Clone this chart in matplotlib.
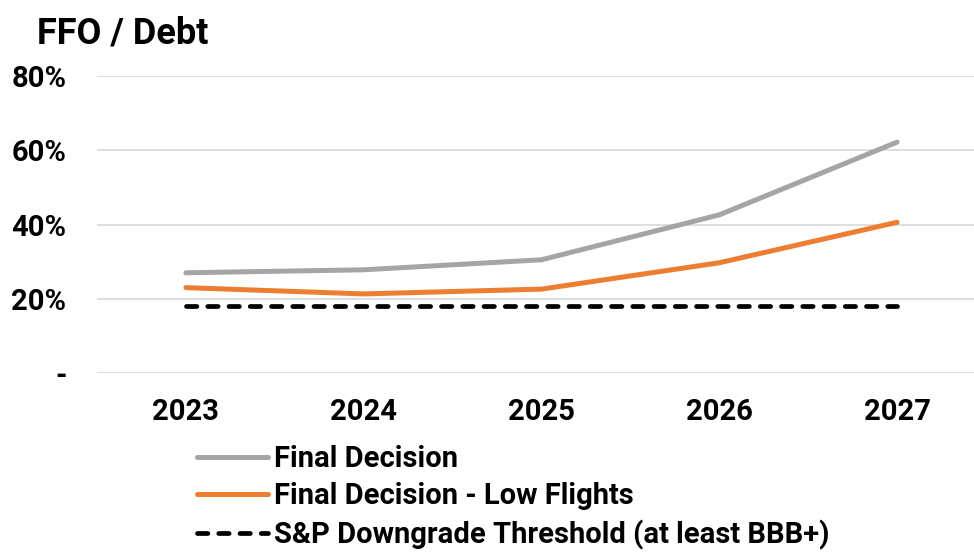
import numpy as np
import matplotlib
matplotlib.use('Agg')
import matplotlib.pyplot as plt
from matplotlib.ticker import FuncFormatter

plt.rcParams['font.family'] = ['Roboto', 'DejaVu Sans']
plt.rcParams['font.weight'] = 'bold'

years = ['2023', '2024', '2025', '2026', '2027']
final_decision = [0.270, 0.278, 0.305, 0.426, 0.622]
low_flights = [0.230, 0.213, 0.226, 0.297, 0.406]
sp_threshold = [0.18, 0.18, 0.18, 0.18, 0.18]

fig = plt.figure(figsize=(9.74, 5.53), dpi=100)
# plot area runs a little past the right edge, as in the source slide
ax = fig.add_axes([0.0996, 0.3255, 0.9127, 0.537])

x = np.arange(len(years))
ax.plot(x, final_decision, color='#A5A5A5', lw=3.6, solid_capstyle='round',
        label='Final Decision')
ax.plot(x, low_flights, color='#ED7D31', lw=3.6, solid_capstyle='round',
        label='Final Decision - Low Flights')
ax.plot(x, sp_threshold, color='black', lw=3.4, dash_capstyle='round',
        linestyle=(0, (2.2, 2.3)), label='S&P Downgrade Threshold (at least BBB+)')

ax.set_xlim(-0.5, 4.5)
ax.set_ylim(0, 0.8)
ax.set_yticks([0, 0.2, 0.4, 0.6, 0.8])
ax.yaxis.set_major_formatter(FuncFormatter(lambda v, p: '-' if v == 0 else f'{v:.0%}'))
ax.set_xticks(x)
ax.set_xticklabels(years)

ax.grid(axis='y', color='#D9D9D9', lw=1.2)
ax.set_axisbelow(True)
for s in ax.spines.values():
    s.set_visible(False)
ax.tick_params(axis='both', length=0, labelsize=21, colors='black')
ax.tick_params(axis='y', pad=22)
ax.tick_params(axis='x', pad=18)

fig.text(0.038, 1 - 43 / 553, 'FFO / Debt', fontsize=26, fontweight='bold',
         ha='left', va='baseline')

fig.legend(loc='upper left', bbox_to_anchor=(197 / 974, 1 - 445 / 553),
           frameon=False, fontsize=21, handlelength=2.43, handletextpad=0.2,
           labelspacing=0.32, borderaxespad=0, borderpad=0)

fig.savefig('out.png', dpi=100)
